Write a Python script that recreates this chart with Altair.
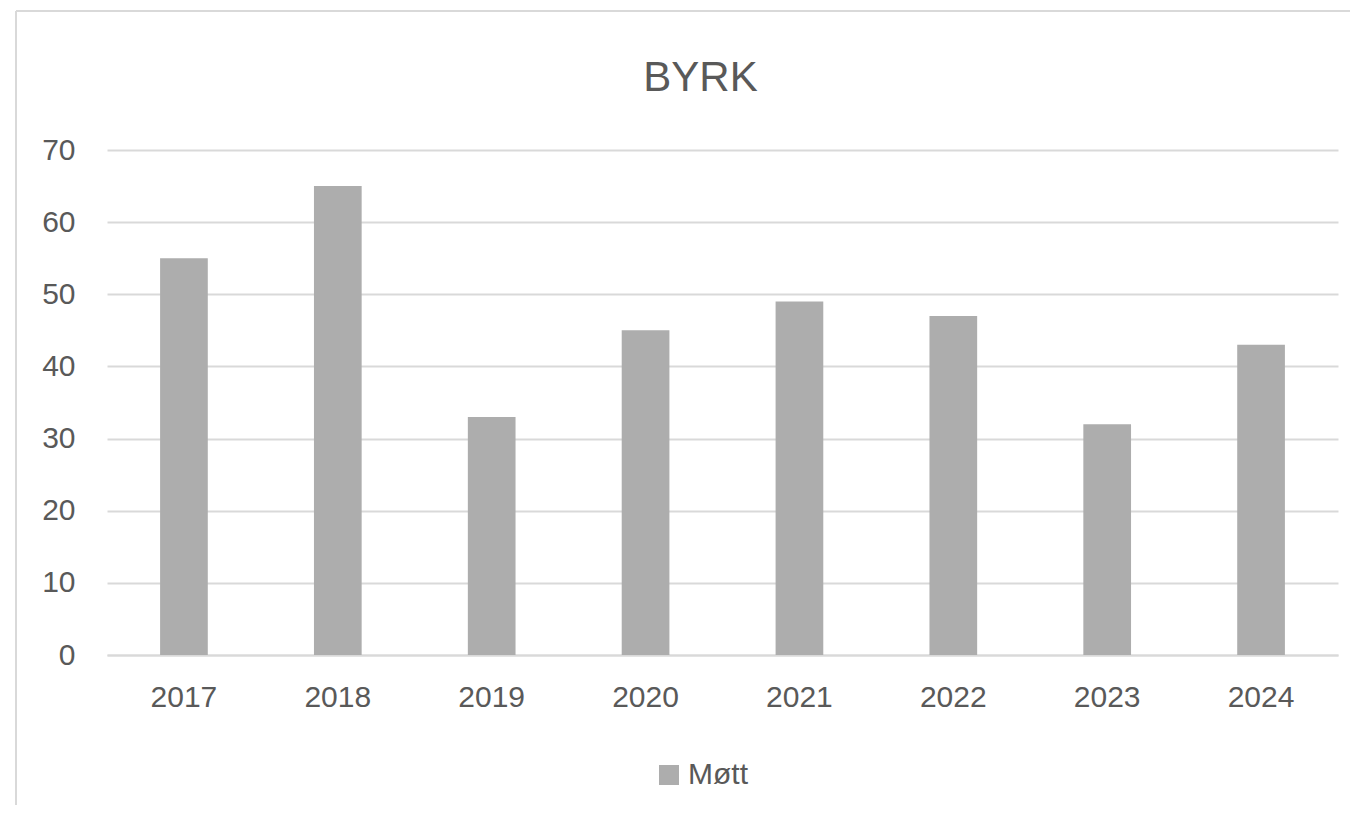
import altair as alt
import pandas as pd

years = ["2017", "2018", "2019", "2020", "2021", "2022", "2023", "2024"]
values = [55, 65, 33, 45, 49, 47, 32, 43]
series = ["Møtt"] * len(years)

df = pd.DataFrame({"År": years, "Verdi": values, "Serie": series})

FONT = "Liberation Sans"
TXT = "#595959"
GRID = "#D9D9D9"

bars = alt.Chart(df).mark_bar(color="#ADADAD").encode(
    x=alt.X("År:N", sort=years,
            scale=alt.Scale(paddingInner=0.69, paddingOuter=0.345),
            axis=alt.Axis(title=None, labelAngle=0, ticks=False,
                          domainColor=GRID, domainWidth=2,
                          labelPadding=27, labelFontSize=30,
                          labelColor=TXT, labelFont=FONT)),
    y=alt.Y("Verdi:Q", scale=alt.Scale(domain=[0, 70]),
            axis=alt.Axis(title=None, values=[0, 10, 20, 30, 40, 50, 60, 70],
                          ticks=False, domain=False, gridColor=GRID,
                          gridWidth=2, labelPadding=32, labelFontSize=30,
                          labelColor=TXT, labelFont=FONT)),
    color=alt.Color("Serie:N", scale=alt.Scale(range=["#ADADAD"]),
                    legend=alt.Legend(title=None, orient="none",
                                      legendX=547, legendY=610,
                                      symbolType="square", symbolSize=400,
                                      symbolStrokeWidth=0,
                                      labelFontSize=30, labelColor=TXT,
                                      labelFont=FONT, labelOffset=4)),
)

border_top = alt.Chart(alt.Data(values=[{}])).mark_rule(
    color=GRID, strokeWidth=2).encode(
    x=alt.value(-91), x2=alt.value(1300), y=alt.value(-139))
border_left = alt.Chart(alt.Data(values=[{}])).mark_rule(
    color=GRID, strokeWidth=2).encode(
    x=alt.value(-91), y=alt.value(-139), y2=alt.value(700))

chart = alt.layer(border_top, border_left, bars).properties(
    width=1231, height=505,
    title=alt.TitleParams("BYRK", fontSize=42, font=FONT, color=TXT,
                          fontWeight="normal", anchor="middle",
                          baseline="bottom", offset=-132, dx=-22),
    autosize=alt.AutoSizeParams(type="none"),
    padding={"left": 99, "top": 142, "right": 12, "bottom": 150},
).configure(background="white").configure_view(stroke=None)

chart.save("out.html", embed_options={"renderer": "svg", "actions": False})
